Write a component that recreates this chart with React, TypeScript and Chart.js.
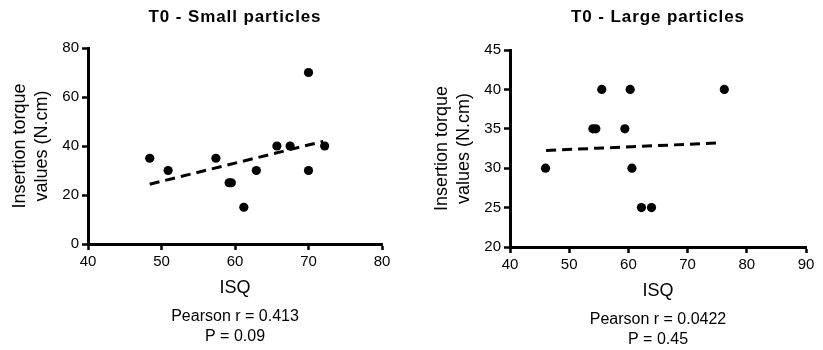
import React, { useEffect, useRef } from "react";
import { Chart, registerables } from "chart.js";

Chart.register(...registerables);

// ---- Data ----
const smallIsq = [48.4, 50.9, 57.4, 59.2, 59.5, 61.2, 62.9, 65.7, 67.5, 70.0, 70.0, 72.2];
const smallTorque = [35, 30, 35, 25, 25, 15, 30, 40, 40, 70, 30, 40];
const smallTrendIsq = [48.4, 72.0];
const smallTrendTorque = [24.4, 41.9];
const smallTitle = "T0 - Small particles";
const smallStats = ["Pearson r = 0.413", "P = 0.09"];
const smallXTicks = [40, 80, 10];
const smallYTicks = [0, 80, 20];

const largeIsq = [46.0, 54.0, 54.5, 55.5, 59.4, 60.3, 60.6, 62.2, 63.9, 76.2];
const largeTorque = [30, 35, 35, 40, 35, 40, 30, 25, 25, 40];
const largeTrendIsq = [46.1, 75.0];
const largeTrendTorque = [32.25, 33.2];
const largeTitle = "T0 - Large particles";
const largeStats = ["Pearson r = 0.0422", "P = 0.45"];
const largeXTicks = [40, 90, 10];
const largeYTicks = [20, 45, 5];

const xTitle = "ISQ";
const yTitle = ["Insertion torque", "values (N.cm)"];

const FAMILY = '"Liberation Sans", Arial, Helvetica, sans-serif';

const panelText = {
  id: "panelText",
  afterDraw(chart: any, _args: any, opts: any) {
    const { ctx, chartArea: a } = chart;
    const cx = (a.left + a.right) / 2;
    ctx.save();
    ctx.fillStyle = "#000";
    ctx.textAlign = "center";
    ctx.textBaseline = "middle";
    ctx.font = `bold 17px ${FAMILY}`;
    (ctx as any).letterSpacing = "0.9px";
    ctx.fillText(opts.title, cx, 17);
    (ctx as any).letterSpacing = "0px";
    ctx.font = `18px ${FAMILY}`;
    ctx.fillText(xTitle, cx, a.bottom + 44);
    ctx.font = `16px ${FAMILY}`;
    opts.stats.forEach((s: string, i: number) => ctx.fillText(s, cx, a.bottom + 73 + 20 * i));
    ctx.font = `18px ${FAMILY}`;
    const cy = (a.top + a.bottom) / 2;
    [a.left - 68, a.left - 46].forEach((x, i) => {
      ctx.save();
      ctx.translate(x, cy);
      ctx.rotate(-Math.PI / 2);
      ctx.fillText(yTitle[i], 0, 0);
      ctx.restore();
    });
    ctx.restore();
  },
};

type PanelProps = {
  width: number;
  isq: number[];
  torque: number[];
  trendIsq: number[];
  trendTorque: number[];
  title: string;
  stats: string[];
  xTicks: number[];
  yTicks: number[];
  yWidth: number;
  padding: { top: number; right: number; bottom: number; left: number };
};

function Panel(p: PanelProps) {
  const ref = useRef<HTMLCanvasElement>(null);
  useEffect(() => {
    const axisCommon = (range: number[]) => ({
      type: "linear" as const,
      min: range[0],
      max: range[1],
      ticks: {
        stepSize: range[2],
        color: "#000",
        font: { size: 15, family: FAMILY },
        padding: 3,
        autoSkip: false,
      },
      grid: {
        display: true,
        drawOnChartArea: false,
        drawTicks: true,
        tickLength: 6,
        tickWidth: 2.5,
        tickColor: "#000",
      },
      border: { display: true, color: "#000", width: 3 },
    });
    const chart = new Chart(ref.current!, {
      type: "scatter",
      data: {
        datasets: [
          {
            data: p.isq.map((x, i) => ({ x, y: p.torque[i] })),
            backgroundColor: "#000",
            borderWidth: 0,
            pointRadius: 4.6,
            showLine: false,
          },
          {
            data: p.trendIsq.map((x, i) => ({ x, y: p.trendTorque[i] })),
            borderColor: "#000",
            borderWidth: 3,
            borderDash: [10, 6],
            pointRadius: 0,
            showLine: true,
            fill: false,
          },
        ],
      },
      options: {
        animation: false,
        responsive: false,
        events: [],
        layout: { padding: p.padding },
        plugins: {
          legend: { display: false },
          tooltip: { enabled: false },
          title: { display: false },
          panelText: { title: p.title, stats: p.stats },
        } as any,
        scales: {
          x: {
            ...axisCommon(p.xTicks),
            position: "bottom",
            afterFit: (s: any) => {
              s.height = 40;
            },
          },
          y: {
            ...axisCommon(p.yTicks),
            position: "left",
            afterFit: (s: any) => {
              s.width = p.yWidth;
            },
          },
        },
      },
      plugins: [panelText],
    });
    return () => chart.destroy();
  }, []);
  return <canvas ref={ref} width={p.width} height={350} style={{ display: "block" }} />;
}

export default function App() {
  useEffect(() => {
    document.body.style.margin = "0";
  }, []);
  return (
    <div style={{ display: "flex", width: 823, height: 350, background: "#fff" }}>
      <Panel
        width={411}
        isq={smallIsq}
        torque={smallTorque}
        trendIsq={smallTrendIsq}
        trendTorque={smallTrendTorque}
        title={smallTitle}
        stats={smallStats}
        xTicks={smallXTicks}
        yTicks={smallYTicks}
        yWidth={88}
        padding={{ top: 48, right: 29, bottom: 66, left: 0 }}
      />
      <Panel
        width={412}
        isq={largeIsq}
        torque={largeTorque}
        trendIsq={largeTrendIsq}
        trendTorque={largeTrendTorque}
        title={largeTitle}
        stats={largeStats}
        xTicks={largeXTicks}
        yTicks={largeYTicks}
        yWidth={99}
        padding={{ top: 50, right: 17, bottom: 63, left: 0 }}
      />
    </div>
  );
}
